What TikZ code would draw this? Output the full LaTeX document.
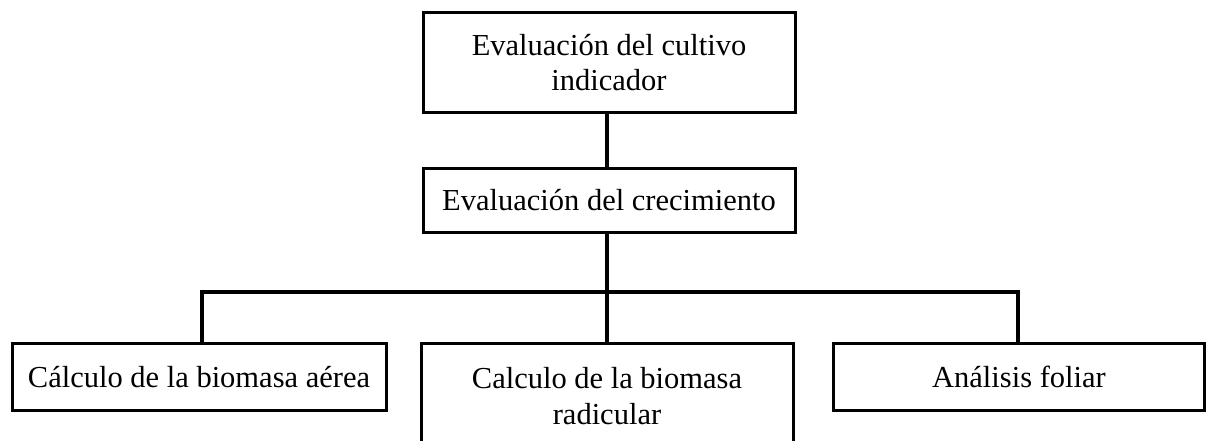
\documentclass[tikz,border=0pt]{standalone}
\usepackage{fontspec}
\setmainfont{Liberation Serif}
\begin{document}
\begin{tikzpicture}[x=1pt,y=-1pt,
  box/.style={draw=black,line width=3pt,rectangle,align=center,inner sep=0pt,
    font=\fontsize{30.5}{35.5}\selectfont},
  conn/.style={line width=3.6pt,draw=black}]
\useasboundingbox (0,0) rectangle (1208,441);
\clip (0,0) rectangle (1208,441);
\node[box,minimum width=372pt,minimum height=100pt] (top) at (609,62.5) {Evaluación del cultivo\\indicador};
\node[box,minimum width=372pt,minimum height=64pt] (mid) at (609,200.5) {Evaluación del crecimiento};
\node[box,minimum width=374pt,minimum height=67pt] (lb) at (199,377) {Cálculo de la biomasa aérea};
\node[box,minimum width=372pt,minimum height=106pt] (cb) at (607,396) {Calculo de la biomasa\\radicular};
\node[box,minimum width=371pt,minimum height=67pt] (rb) at (1019,377) {Análisis foliar};
\coordinate (j) at (607,292);
\coordinate (lj) at (202,292);
\coordinate (rj) at (1018,292);
\draw[conn] (top.south -| j) -- (mid.north -| j);
\draw[conn] (mid.south -| j) -- (cb.north -| j);
\draw[conn] (lb.north -| lj) -- (lj) -- (rj) -- (rb.north -| rj);
\end{tikzpicture}
\end{document}
